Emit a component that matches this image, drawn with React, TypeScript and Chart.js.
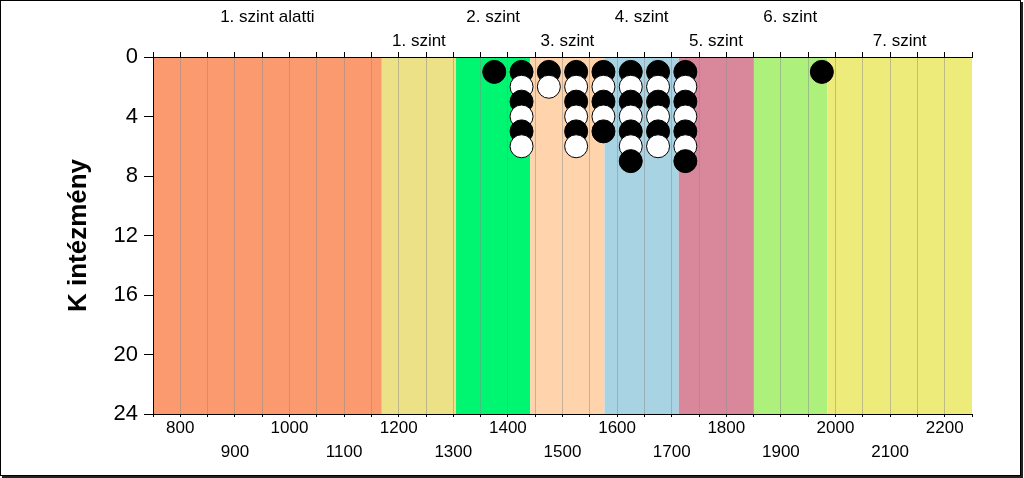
import React, { useEffect, useRef } from "react";
import { Chart, registerables } from "chart.js";

Chart.register(...registerables);

// Level bands (score ranges) and their names / colours
const levelNames = [
  "1. szint alatti",
  "1. szint",
  "2. szint",
  "3. szint",
  "4. szint",
  "5. szint",
  "6. szint",
  "7. szint",
];
const levelBounds = [750, 1169, 1305, 1441, 1577, 1713, 1849, 1985, 2250];
const levelColors = [
  "#FB9A6E",
  "#ECE186",
  "#00F570",
  "#FFD4AC",
  "#A8D3E3",
  "#D8889A",
  "#ADF07C",
  "#EDEC7B",
];

// Institutions (dots): score bin (x) and stack position (y)
const pointX = [
  1375,
  1425, 1425, 1425, 1425, 1425, 1425,
  1475, 1475,
  1525, 1525, 1525, 1525, 1525, 1525,
  1575, 1575, 1575, 1575, 1575,
  1625, 1625, 1625, 1625, 1625, 1625, 1625,
  1675, 1675, 1675, 1675, 1675, 1675,
  1725, 1725, 1725, 1725, 1725, 1725, 1725,
  1975,
];
const pointY = [
  1,
  1, 2, 3, 4, 5, 6,
  1, 2,
  1, 2, 3, 4, 5, 6,
  1, 2, 3, 4, 5,
  1, 2, 3, 4, 5, 6, 7,
  1, 2, 3, 4, 5, 6,
  1, 2, 3, 4, 5, 6, 7,
  1,
];

const xMin = 750;
const xMax = 2250;
const xStep = 50;
const yTicks = [0, 4, 8, 12, 16, 20, 24];
const yTitle = "K intézmény";

const FONT = '"Liberation Sans", Arial, sans-serif';

export default function App() {
  const canvasRef = useRef<HTMLCanvasElement | null>(null);

  useEffect(() => {
    const canvas = canvasRef.current;
    if (!canvas) return;
    Chart.defaults.font.family = FONT;

    const bandPlugin = {
      id: "bands",
      beforeDraw(chart: any) {
        const { ctx, chartArea, scales } = chart;
        const xs = scales.x;
        ctx.save();
        for (let i = 0; i < levelColors.length; i++) {
          const x0 = xs.getPixelForValue(levelBounds[i]);
          const x1 = xs.getPixelForValue(levelBounds[i + 1]);
          ctx.fillStyle = levelColors[i];
          ctx.fillRect(x0, chartArea.top, x1 - x0, chartArea.bottom - chartArea.top);
        }
        ctx.restore();
      },
    };

    const centers = levelNames.map((_, i) => (levelBounds[i] + levelBounds[i + 1]) / 2);

    const chart = new Chart(canvas, {
      type: "scatter",
      data: {
        datasets: [
          {
            data: pointX.map((x, i) => ({ x, y: pointY[i] })),
            xAxisID: "x",
            yAxisID: "y",
            pointRadius: 11.5,
            pointHoverRadius: 11.5,
            pointBorderWidth: 1,
            pointBorderColor: "#000",
            pointBackgroundColor: pointY.map((y) => (y % 2 === 1 ? "#000" : "#fff")),
            showLine: false,
            clip: false as any,
          },
        ],
      },
      options: {
        animation: false,
        responsive: true,
        maintainAspectRatio: false,
        layout: { padding: { left: 0, right: 52, top: 0, bottom: 0 } },
        plugins: { legend: { display: false }, tooltip: { enabled: false } },
        scales: {
          x: {
            type: "linear",
            position: "bottom",
            min: xMin,
            max: xMax,
            afterFit: (s: any) => {
              s.height = 64;
            },
            ticks: {
              stepSize: xStep,
              autoSkip: false,
              maxRotation: 0,
              color: "#000",
              padding: -1,
              font: { size: 17, lineHeight: 24 / 17 },
              callback: (v: any) => {
                const n = Number(v);
                if (n % 100 !== 0) return "";
                return (n / 100) % 2 === 0 ? [String(n), ""] : ["", String(n)];
              },
            },
            grid: {
              drawOnChartArea: true,
              drawTicks: true,
              tickLength: 3,
              tickColor: "#000",
              color: (c: any) =>
                c.tick && (c.tick.value === xMin || c.tick.value === xMax)
                  ? "rgba(0,0,0,0)"
                  : "rgba(140,140,140,0.5)",
              lineWidth: 1,
            },
            border: { display: true, color: "#000", width: 1 },
          },
          xTop: {
            type: "linear",
            position: "top",
            min: xMin,
            max: xMax,
            weight: 0,
            afterFit: (s: any) => {
              s.height = 5;
            },
            ticks: { stepSize: xStep, display: false, autoSkip: false },
            grid: {
              drawOnChartArea: false,
              drawTicks: true,
              tickLength: 5,
              tickColor: "#000",
            },
            border: { display: true, color: "#000", width: 1 },
          },
          xLevels: {
            type: "linear",
            position: "top",
            min: xMin,
            max: xMax,
            weight: 1,
            afterFit: (s: any) => {
              s.height = 52;
            },
            afterBuildTicks: (s: any) => {
              s.ticks = centers.map((v) => ({ value: v }));
            },
            ticks: {
              autoSkip: false,
              maxRotation: 0,
              color: "#000",
              padding: -1,
              font: { size: 17, lineHeight: 24 / 17 },
              callback: (_v: any, i: number) =>
                i % 2 === 0 ? [levelNames[i], ""] : ["", levelNames[i]],
            },
            grid: { display: false, drawTicks: false },
            border: { display: false },
          },
          y: {
            type: "linear",
            position: "left",
            reverse: true,
            min: 0,
            max: 24,
            afterFit: (s: any) => {
              s.width = 153;
            },
            afterBuildTicks: (s: any) => {
              s.ticks = yTicks.map((v) => ({ value: v }));
            },
            ticks: {
              color: "#000",
              padding: 6,
              font: { size: 22 },
            },
            grid: {
              drawOnChartArea: false,
              drawTicks: true,
              tickLength: 9,
              tickColor: "#000",
            },
            border: { display: true, color: "#000", width: 1 },
            title: {
              display: true,
              text: yTitle,
              color: "#000",
              font: { size: 26, weight: "bold", lineHeight: 1.2 },
              padding: { top: 63.4, bottom: 0 },
            },
          },
        },
      },
      plugins: [bandPlugin],
    } as any);

    return () => chart.destroy();
  }, []);

  return (
    <>
      <div style={{ position: "absolute", left: 0, top: 0, width: 1024, height: 478 }}>
        <canvas ref={canvasRef} />
      </div>
      <div
        style={{
          position: "absolute",
          left: 0,
          top: 0,
          width: 1021,
          height: 476,
          boxSizing: "border-box",
          border: "1px solid #000",
          boxShadow: "2px 2px 0 #222",
          pointerEvents: "none",
        }}
      />
    </>
  );
}
